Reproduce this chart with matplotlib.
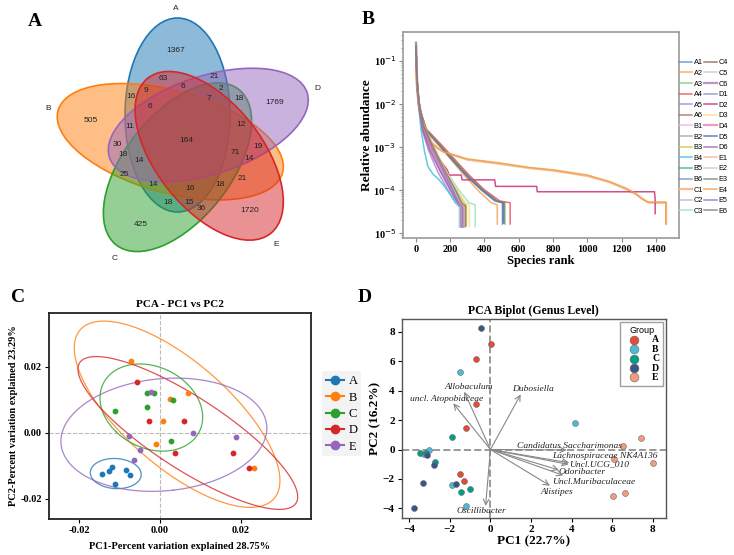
import numpy as np
import matplotlib
matplotlib.use("Agg")
import matplotlib.pyplot as plt
from matplotlib.patches import Ellipse
from matplotlib.lines import Line2D
from matplotlib.ticker import FixedLocator, FixedFormatter, FormatStrFormatter, NullFormatter, LogLocator

SERIF = "Liberation Serif"
SANS = "Liberation Sans"
plt.rcParams["font.family"] = [SANS, "DejaVu Sans"]
plt.rcParams["axes.unicode_minus"] = True

W, H = 734, 555

# ---------------- A: Venn ----------------
venn_sets = ["A", "B", "C", "D", "E"]
venn_colors = ["#1f77b4", "#ff7f0e", "#2ca02c", "#9467bd", "#d62728"]
venn_counts = [1367, 63, 21, 9, 6, 2, 16, 7, 18, 1769, 505, 6, 11, 12, 30,
               164, 19, 71, 14, 18, 14, 25, 21, 14, 16, 18, 18, 15, 36, 1720, 425]

# ---------------- B: rank abundance ----------------
samples = [g + str(i) for g in "ABCDE" for i in range(1, 7)]
sample_colors = ["#5b8fc7", "#f5a35c", "#7fc97f", "#e8585a", "#a985d8", "#a0766a",
                 "#f2b3dc", "#a6a6a6", "#c9c94a", "#3ec6d6", "#3ab39d", "#7f8fc0",
                 "#f7b183", "#b9b1e0", "#9ee0cf", "#8c6a5a", "#c9c9c9", "#b67fc0",
                 "#8c8fc9", "#cc2f7a", "#f7e08a", "#ee8ab8", "#4b6fa8", "#9a6bb0",
                 "#f5b19a", "#c0cdd0", "#808080", "#f0a04b", "#8f76c4", "#8a7c72"]
ranks = [
    [1, 3, 10, 25, 60, 145, 300, 380, 460, 505, 505],
    [1, 3, 10, 25, 60, 140, 290, 370, 440, 475, 475],
    [1, 3, 10, 25, 60, 150, 305, 390, 470, 520, 520],
    [1, 3, 10, 25, 60, 150, 310, 400, 490, 550, 550],
    [1, 3, 8, 18, 40, 75, 130, 200, 250, 262, 262],
    [1, 3, 8, 18, 45, 95, 155, 225, 260, 275, 275],
    [1, 3, 8, 18, 40, 80, 135, 205, 245, 258, 258],
    [1, 3, 8, 18, 45, 100, 160, 230, 265, 280, 280],
    [1, 3, 8, 18, 45, 100, 165, 240, 280, 295, 295],
    [1, 3, 10, 30, 50, 70, 100, 130, 160, 190, 230, 255, 255],
    [1, 3, 8, 18, 45, 95, 155, 225, 255, 268, 268],
    [1, 3, 8, 18, 45, 95, 155, 220, 250, 262, 262],
    [1, 5, 15, 40, 90, 130, 160, 300, 490, 660, 800, 1000, 1130, 1235, 1285, 1320, 1360, 1460, 1460],
    [1, 3, 8, 18, 45, 95, 160, 230, 270, 285, 285],
    [1, 3, 8, 18, 45, 100, 170, 250, 310, 346, 346],
    [1, 3, 8, 18, 45, 95, 155, 225, 265, 278, 278],
    [1, 3, 8, 18, 45, 95, 150, 215, 245, 255, 255],
    [1, 3, 8, 18, 40, 85, 145, 215, 260, 272, 272],
    [1, 3, 8, 18, 45, 95, 155, 225, 262, 275, 275],
    [1, 3, 10, 25, 50, 100, 183, 195, 265, 270, 460, 465, 705, 708, 1392, 1396, 1396],
    [1, 3, 8, 18, 45, 100, 165, 240, 290, 312, 312],
    [1, 3, 8, 18, 45, 90, 150, 220, 255, 268, 268],
    [1, 3, 10, 25, 60, 145, 300, 385, 470, 510, 510],
    [1, 3, 8, 18, 40, 80, 140, 210, 250, 262, 262],
    [1, 3, 8, 18, 45, 95, 160, 230, 268, 282, 282],
    [1, 3, 8, 18, 45, 95, 155, 225, 255, 265, 265],
    [1, 3, 10, 25, 60, 150, 305, 390, 475, 515, 515],
    [1, 5, 15, 40, 90, 130, 160, 300, 490, 660, 800, 1000, 1130, 1230, 1280, 1310, 1350, 1458, 1458],
    [1, 3, 8, 18, 45, 95, 155, 220, 255, 270, 270],
    [1, 3, 8, 18, 45, 100, 160, 230, 270, 290, 290],
]
abund = [
    [0.22, 0.08, 0.02, 0.0068, 0.0024, 0.001, 2.1e-4, 1e-4, 5.5e-5, 5e-5, 1.6e-5],
    [0.2, 0.075, 0.019, 0.0065, 0.0023, 0.001, 2e-4, 9e-5, 5e-5, 4.5e-5, 1.6e-5],
    [0.21, 0.08, 0.021, 0.007, 0.0025, 0.001, 2.1e-4, 1e-4, 5.5e-5, 5e-5, 1.6e-5],
    [0.19, 0.078, 0.021, 0.0072, 0.0026, 0.0011, 2.2e-4, 1e-4, 5.5e-5, 5e-5, 1.6e-5],
    [0.24, 0.09, 0.026, 0.008, 0.0022, 8e-4, 2.5e-4, 8e-5, 4.5e-5, 4e-5, 1.4e-5],
    [0.23, 0.1, 0.03, 0.01, 0.003, 0.001, 3.2e-4, 1e-4, 5e-5, 4e-5, 1.4e-5],
    [0.26, 0.1, 0.028, 0.009, 0.0025, 9e-4, 3e-4, 9e-5, 5e-5, 4e-5, 1.4e-5],
    [0.22, 0.09, 0.03, 0.01, 0.0032, 0.0011, 3.5e-4, 1e-4, 5e-5, 4.5e-5, 1.4e-5],
    [0.2, 0.09, 0.03, 0.011, 0.0034, 0.0011, 3.3e-4, 1e-4, 5e-5, 4.5e-5, 1.5e-5],
    [0.2, 0.06, 0.015, 0.0025, 8e-4, 3.5e-4, 2.3e-4, 1.8e-4, 1.3e-4, 9e-5, 5e-5, 4e-5, 1.4e-5],
    [0.24, 0.1, 0.031, 0.01, 0.003, 0.001, 3e-4, 9.5e-5, 4.5e-5, 4e-5, 1.4e-5],
    [0.25, 0.1, 0.03, 0.0095, 0.0029, 9.5e-4, 3e-4, 9e-5, 4.5e-5, 4e-5, 1.4e-5],
    [0.055, 0.028, 0.01, 0.0042, 0.0013, 9.2e-4, 7.7e-4, 5e-4, 4e-4, 3.2e-4, 2.8e-4, 2.1e-4, 1.5e-4, 1e-4, 7.8e-5, 6.2e-5, 5e-5, 5e-5, 1.6e-5],
    [0.23, 0.1, 0.03, 0.01, 0.003, 0.001, 3.2e-4, 1e-4, 4.5e-5, 4e-5, 1.4e-5],
    [0.22, 0.09, 0.03, 0.01, 0.003, 0.001, 3e-4, 1e-4, 5e-5, 4.5e-5, 1.4e-5],
    [0.24, 0.1, 0.03, 0.0098, 0.003, 0.001, 3.1e-4, 1e-4, 4.8e-5, 4e-5, 1.4e-5],
    [0.25, 0.1, 0.03, 0.01, 0.003, 9.5e-4, 3e-4, 9e-5, 4.5e-5, 4e-5, 1.4e-5],
    [0.26, 0.1, 0.028, 0.009, 0.0027, 9e-4, 3e-4, 9e-5, 4.5e-5, 4e-5, 1.4e-5],
    [0.24, 0.1, 0.03, 0.01, 0.003, 0.001, 3.2e-4, 1e-4, 4.8e-5, 4e-5, 1.4e-5],
    [0.22, 0.085, 0.02, 0.006, 0.002, 8e-4, 2.9e-4, 2.2e-4, 2.2e-4, 1.7e-4, 1.7e-4, 1.2e-4, 1.2e-4, 9e-5, 9e-5, 6e-5, 2.8e-5],
    [0.22, 0.09, 0.03, 0.011, 0.0033, 0.0011, 3.3e-4, 1e-4, 5e-5, 4.5e-5, 1.4e-5],
    [0.25, 0.1, 0.029, 0.0095, 0.0028, 9e-4, 3e-4, 9e-5, 4.5e-5, 4e-5, 1.4e-5],
    [0.2, 0.08, 0.02, 0.007, 0.0024, 0.001, 2e-4, 1e-4, 5.5e-5, 5e-5, 1.7e-5],
    [0.25, 0.095, 0.027, 0.0085, 0.0024, 8.5e-4, 2.8e-4, 8.5e-5, 4.5e-5, 4e-5, 1.4e-5],
    [0.23, 0.1, 0.03, 0.01, 0.003, 0.001, 3.2e-4, 1e-4, 4.6e-5, 4e-5, 1.4e-5],
    [0.24, 0.1, 0.03, 0.01, 0.003, 0.001, 3e-4, 9.5e-5, 4.5e-5, 4e-5, 1.4e-5],
    [0.2, 0.08, 0.021, 0.007, 0.0025, 0.001, 2.1e-4, 1e-4, 5.5e-5, 5e-5, 1.7e-5],
    [0.06, 0.03, 0.01, 0.004, 0.0012, 9e-4, 7.6e-4, 5.2e-4, 4.2e-4, 3.3e-4, 2.9e-4, 2.2e-4, 1.55e-4, 1.07e-4, 8.3e-5, 6.6e-5, 5.2e-5, 5.2e-5, 1.65e-5],
    [0.24, 0.1, 0.03, 0.0098, 0.0029, 9.5e-4, 3e-4, 9e-5, 4.5e-5, 4e-5, 1.4e-5],
    [0.22, 0.1, 0.03, 0.01, 0.003, 0.001, 3.3e-4, 1e-4, 4.8e-5, 4.2e-5, 1.4e-5],
]

# ---------------- C: PCA ----------------
groups = ["A", "B", "C", "D", "E"]
pcaC_x = [
    [-0.0142, -0.0126, -0.0118, -0.0083, -0.0075, -0.0111],
    [-0.0071, 0.0070, 0.0026, 0.0007, -0.0010, 0.0232],
    [-0.0032, -0.0014, -0.0110, -0.0032, 0.0032, 0.0028],
    [-0.0056, -0.0027, 0.0059, 0.0036, 0.0180, 0.0221],
    [-0.0021, 0.0082, -0.0076, -0.0049, -0.0065, 0.0187],
]
pcaC_y = [
    [-0.0126, -0.0115, -0.0103, -0.0114, -0.0130, -0.0157],
    [0.0217, 0.0119, 0.0103, 0.0035, -0.0033, -0.0106],
    [0.0119, 0.0120, 0.0067, 0.0077, 0.0099, -0.0025],
    [0.0154, 0.0035, 0.0034, -0.0062, -0.0061, -0.0106],
    [0.0122, 0.0000, -0.0011, -0.0053, -0.0083, -0.0013],
]
tab_colors = ["#1f77b4", "#ff7f0e", "#2ca02c", "#d62728", "#9467bd"]

# ---------------- D: biplot ----------------
pcaD_x = [
    [0.01, -0.71, -0.73, -1.22, -1.52, -1.31],
    [-1.50, 4.18, -1.90, -1.22, -3.03, -3.29],
    [-1.88, -3.47, -3.19, -2.73, -1.47, -1.03],
    [-0.45, -3.10, -2.80, -3.33, -1.70, -3.77],
    [7.41, 6.51, 6.07, 7.99, 6.61, 6.05],
]
pcaD_y = [
    [7.15, 6.16, 3.10, 1.49, -1.69, -2.12],
    [5.25, 1.78, -2.44, -3.82, -0.05, -0.28],
    [0.87, -0.22, -0.24, -0.85, -2.91, -2.71],
    [8.27, -0.40, -1.08, -2.26, -2.35, -4.00],
    [0.80, 0.24, -0.67, -0.90, -2.98, -3.16],
]
npg_colors = ["#E64B35", "#4DBBD5", "#00A087", "#3C5488", "#F39B7F"]
taxa = ["Allobaculum", "uncl. Atopobiaceae", "Dubosiella", "Candidatus Saccharimonas",
        "Lachnospiraceae NK4A136", "Uncl.UCG_010", "Odoribacter", "Uncl.Muribaculaceae",
        "Alistipes", "Oscillibacter"]
load_x = [-1.29, -1.83, 1.49, 3.75, 3.88, 3.85, 3.37, 3.59, 2.93, -0.24]
load_y = [3.93, 3.14, 3.75, -0.03, -0.90, -1.01, -1.39, -1.76, -2.46, -3.84]

fig = plt.figure(figsize=(W / 100, H / 100), dpi=100)


def px_axes(l, t, r, b):
    return fig.add_axes([l / W, 1 - b / H, (r - l) / W, (b - t) / H])


# ===== A =====
axv = px_axes(0, 0, 370, 290)
axv.set_xlim(0, 370)
axv.set_ylim(290, 0)
axv.axis("off")
venn_shapes = [((177.5, 115), 105, 194, 0), ((170.3, 141.7), 233, 102, 15.5),
               ((177.5, 167.2), 198, 106, -51.7), ((208.3, 125), 208, 98, -18.2),
               ((209.2, 155.8), 198, 106, 51.7)]
for (c, w, h, ang), col in zip(venn_shapes, venn_colors):
    axv.add_patch(Ellipse(c, w, h, angle=ang, facecolor=col, alpha=0.5, edgecolor="none"))
    axv.add_patch(Ellipse(c, w, h, angle=ang, facecolor="none", edgecolor=col, lw=1.2))
venn_label_pos = [(176, 9), (48, 108), (115, 259), (317, 89), (276, 245)]
for s, (x, y) in zip(venn_sets, venn_label_pos):
    axv.text(x, y, s, fontsize=6, ha="center", va="center", color="#222222")
venn_num_pos = [(176, 51), (163, 79), (214, 77), (146, 91), (183, 86), (221, 88), (131, 96),
                (209, 99), (239, 99), (275, 103), (91, 120), (150, 106), (130, 126), (241, 124),
                (117, 145), (186, 141), (258, 146), (235, 153), (249, 158), (123, 155),
                (139, 160), (124, 175), (242, 179), (153, 185), (190, 189), (220, 185),
                (168, 203), (189, 203), (201, 208), (250, 210), (141, 225)]
for n, (x, y) in zip(venn_counts, venn_num_pos):
    axv.text(x, y, str(n), fontsize=6, ha="center", va="center", color="#222222")

# ===== B =====
axb = px_axes(403, 32, 679, 238)
for r, a, s, col in zip(ranks, abund, samples, sample_colors):
    lw = 1.6 if s in ("C1", "C6", "D4") else 1.1
    axb.plot(r, a, color=col, lw=lw, alpha=0.85, label=s)
axb.set_yscale("log")
axb.set_xlim(-75, 1535)
axb.set_ylim(7.6e-6, 0.46)
axb.set_xticks([0, 200, 400, 600, 800, 1000, 1200, 1400])
axb.yaxis.set_major_locator(FixedLocator([1e-1, 1e-2, 1e-3, 1e-4, 1e-5]))
axb.yaxis.set_major_formatter(FixedFormatter(["10$^{-1}$", "10$^{-2}$", "10$^{-3}$",
                                               "10$^{-4}$", "10$^{-5}$"]))
axb.yaxis.set_minor_locator(LogLocator(base=10, subs=np.arange(2, 10)))
axb.yaxis.set_minor_formatter(NullFormatter())
for lab in axb.get_xticklabels() + axb.get_yticklabels():
    lab.set_fontfamily(SERIF)
    lab.set_fontweight("bold")
    lab.set_fontsize(7.5)
axb.tick_params(which="major", length=3, color="#888888", pad=2)
axb.tick_params(which="minor", length=1.5, color="#888888")
for sp in axb.spines.values():
    sp.set_color("#999999")
    sp.set_linewidth(1.2)
axb.set_xlabel("Species rank", fontfamily=SERIF, fontweight="bold", fontsize=9, labelpad=1)
axb.set_ylabel("Relative abundance", fontfamily=SERIF, fontweight="bold", fontsize=9.5, labelpad=0)
axb.legend(ncol=2, loc="upper left", bbox_to_anchor=(0.995, 0.875), frameon=False,
           fontsize=5.3, handlelength=1.8, handletextpad=0.2, columnspacing=0.1,
           labelspacing=0.47, borderaxespad=0.1, borderpad=0.1)

# ===== C =====
axc = px_axes(49, 313, 311, 519)
axc.axhline(0, color="#bbbbbb", ls="--", lw=0.8, zorder=0)
axc.axvline(0, color="#bbbbbb", ls="--", lw=0.8, zorder=0)
t = np.linspace(0, 2 * np.pi, 200)
for gx, gy, g, col in zip(pcaC_x, pcaC_y, groups, tab_colors):
    gx = np.array(gx)
    gy = np.array(gy)
    axc.scatter(gx, gy, s=10, color=col, zorder=3)
    # 95% confidence ellipse of the group
    cov = np.cov(gx, gy)
    vals, vecs = np.linalg.eigh(cov)
    radii = np.sqrt(5.991 * vals)
    circ = np.vstack([np.cos(t) * radii[0], np.sin(t) * radii[1]])
    pts = vecs @ circ
    axc.plot(gx.mean() + pts[0], gy.mean() + pts[1], color=col, lw=0.9, alpha=0.8)
axc.set_xlim(-0.0274, 0.0373)
axc.set_ylim(-0.0262, 0.0363)
axc.xaxis.set_major_locator(FixedLocator([-0.02, 0.0, 0.02]))
axc.yaxis.set_major_locator(FixedLocator([-0.02, 0.0, 0.02]))
axc.xaxis.set_major_formatter(FormatStrFormatter("%.2f"))
axc.yaxis.set_major_formatter(FormatStrFormatter("%.2f"))
for lab in axc.get_xticklabels() + axc.get_yticklabels():
    lab.set_fontfamily(SERIF)
    lab.set_fontweight("bold")
    lab.set_fontsize(7.5)
axc.tick_params(length=3, width=0.8, pad=2)
for sp in axc.spines.values():
    sp.set_color("#222222")
    sp.set_linewidth(1.3)
axc.set_title("PCA - PC1 vs PC2", fontfamily=SERIF, fontweight="bold", fontsize=8, pad=4)
axc.set_xlabel("PC1-Percent variation explained 28.75%", fontfamily=SERIF,
               fontweight="bold", fontsize=7.5, labelpad=5)
axc.set_ylabel("PC2-Percent variation explained 23.29%", fontfamily=SERIF,
               fontweight="bold", fontsize=7.5, labelpad=2)
handles_c = [Line2D([], [], color=col, marker="o", markersize=6, lw=1.5) for col in tab_colors]
legc = axc.legend(handles_c, groups, loc="center left", bbox_to_anchor=(1.02, 0.51),
                  frameon=True, prop={"family": SERIF, "size": 9}, handlelength=1.4,
                  handletextpad=0.4, labelspacing=0.35, borderpad=0.3)
legc.get_frame().set_facecolor("#f0f0f0")
legc.get_frame().set_edgecolor("none")

# ===== D =====
axd = px_axes(401.7, 319.3, 665.7, 517.7)
axd.axhline(0, color="#999999", ls="--", lw=1.4, zorder=0)
axd.axvline(0, color="#999999", ls="--", lw=1.4, zorder=0)
for gx, gy, g, col in zip(pcaD_x, pcaD_y, groups, npg_colors):
    axd.scatter(gx, gy, s=18, color=col, edgecolor="#666666", linewidth=0.4, zorder=3, label=g)
label_pos = [(-1.06, 4.27), (-2.16, 3.41), (2.11, 4.14), (3.88, 0.24), (5.64, -0.42),
             (5.33, -1.01), (4.49, -1.51), (5.08, -2.21), (3.28, -2.91), (-0.47, -4.16)]
for name, lx, ly, (tx, ty) in zip(taxa, load_x, load_y, label_pos):
    axd.annotate("", xy=(lx, ly), xytext=(0, 0),
                 arrowprops=dict(arrowstyle="->", color="#888888", lw=0.8, shrinkA=0, shrinkB=0))
    axd.text(tx, ty, name, fontfamily=SERIF, fontstyle="italic", fontsize=6.8,
             ha="center", va="center", color="#222222")
axd.set_xlim(-4.37, 8.63)
axd.set_ylim(-4.64, 8.86)
axd.set_xticks([-4, -2, 0, 2, 4, 6, 8])
axd.set_yticks([-4, -2, 0, 2, 4, 6, 8])
for lab in axd.get_xticklabels() + axd.get_yticklabels():
    lab.set_fontfamily(SERIF)
    lab.set_fontweight("bold")
    lab.set_fontsize(8)
axd.tick_params(length=3, width=0.8, pad=2)
for sp in axd.spines.values():
    sp.set_color("#555555")
    sp.set_linewidth(1.0)
axd.set_title("PCA Biplot (Genus Level)", fontfamily=SERIF, fontweight="bold", fontsize=8.5, pad=4)
axd.set_xlabel("PC1 (22.7%)", fontfamily=SERIF, fontweight="bold", fontsize=9.5, labelpad=1)
axd.set_ylabel("PC2 (16.2%)", fontfamily=SERIF, fontweight="bold", fontsize=9.5, labelpad=1)
legd = axd.legend(title="Group", loc="upper right", prop={"family": SERIF, "weight": "bold", "size": 7},
                  title_fontsize=6.5, handletextpad=0.9, labelspacing=0.05, borderpad=0.4,
                  borderaxespad=0.25, fancybox=False, markerscale=1.5)
legd.get_frame().set_edgecolor("#888888")

# panel letters
for letter, (x, y) in zip("ABCD", [(35, 22), (368, 20), (18, 297), (365, 297)]):
    fig.text(x / W, 1 - y / H, letter, fontfamily=SERIF, fontweight="bold",
             fontsize=14, ha="center", va="center")

fig.savefig("out.png", dpi=100)
